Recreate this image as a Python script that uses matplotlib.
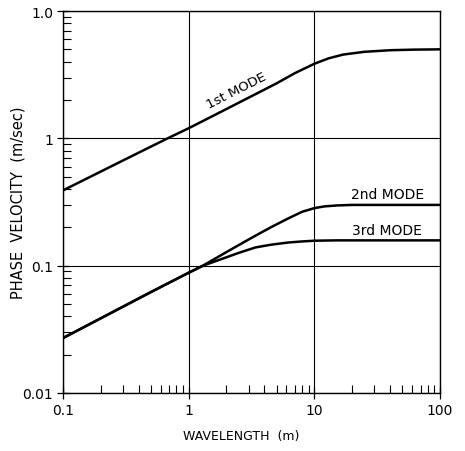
import matplotlib
matplotlib.use("Agg")
import matplotlib.pyplot as plt
from matplotlib.ticker import FixedLocator, LogLocator, NullFormatter

# Data (wavelength in m, phase velocity in m/sec)
mode1_x = [0.1, 0.3, 0.68, 1.0, 2.0, 5.0, 7.0, 10.0, 13.0, 17.0, 25.0, 40.0, 60.0, 100.0]
mode1_y = [0.39, 0.67, 1.0, 1.2, 1.7, 2.7, 3.25, 3.85, 4.25, 4.55, 4.78, 4.92, 4.97, 5.0]

mode2_x = [0.1, 0.5, 1.0, 1.3, 1.84, 2.5, 3.4, 4.5, 6.2, 8.0, 10.0, 12.0, 15.0, 20.0, 40.0, 100.0]
mode2_y = [0.027, 0.062, 0.088, 0.1, 0.122, 0.145, 0.172, 0.2, 0.235, 0.265, 0.283, 0.292, 0.297, 0.30, 0.30, 0.30]

mode3_x = [0.1, 0.5, 1.0, 1.3, 1.84, 2.5, 3.4, 4.5, 6.2, 8.0, 10.0, 15.0, 30.0, 100.0]
mode3_y = [0.027, 0.062, 0.088, 0.1, 0.113, 0.126, 0.139, 0.146, 0.152, 0.155, 0.157, 0.158, 0.158, 0.158]

x_ticks = [0.1, 1, 10, 100]
x_tick_labels = ["0.1", "1", "10", "100"]
y_ticks = [0.01, 0.1, 1, 10]
y_tick_labels = ["0.01", "0.1", "1", "1.0"]

plt.rcParams['font.family'] = ['DejaVu Sans']

fig = plt.figure(figsize=(4.65, 4.52), dpi=100)
ax = fig.add_axes([63/465, 58/452, (440-63)/465, (394-12)/452])

lw = 1.8
ax.plot(mode1_x, mode1_y, color='black', lw=lw, solid_capstyle='butt')
ax.plot(mode2_x, mode2_y, color='black', lw=lw, solid_capstyle='butt')
ax.plot(mode3_x, mode3_y, color='black', lw=lw, solid_capstyle='butt')

ax.set_xscale('log')
ax.set_yscale('log')
ax.set_xlim(0.1, 100)
ax.set_ylim(0.01, 10)

ax.xaxis.set_major_locator(FixedLocator(x_ticks))
ax.set_xticklabels(x_tick_labels)
ax.yaxis.set_major_locator(FixedLocator(y_ticks))
ax.set_yticklabels(y_tick_labels)
ax.xaxis.set_minor_locator(LogLocator(base=10, subs=range(2, 10), numticks=20))
ax.yaxis.set_minor_locator(LogLocator(base=10, subs=range(2, 10), numticks=20))
ax.xaxis.set_minor_formatter(NullFormatter())
ax.yaxis.set_minor_formatter(NullFormatter())

ax.tick_params(axis='both', which='major', direction='inout', length=8, width=0.9,
               labelsize=10, colors='black', pad=3)
ax.tick_params(axis='both', which='minor', direction='in', length=6, width=0.8)
ax.tick_params(top=False, right=False, which='both')

ax.grid(True, which='major', color='black', lw=0.8)
for s in ax.spines.values():
    s.set_linewidth(1.0)
    s.set_color('black')

ax.set_xlabel("WAVELENGTH  (m)", fontsize=9, labelpad=10)
ax.xaxis.set_label_coords((241 - 63) / 377, -(437 - 394) / 382 + 0.0)
ax.xaxis.label.set_va('center')
ax.set_ylabel("PHASE  VELOCITY  (m/sec)", fontsize=10.5)
ax.yaxis.set_label_coords((18 - 63) / 377, 0.5)
ax.yaxis.label.set_va('center')

ax.text(2.42, 2.39, "1st MODE", fontsize=9.5, rotation=27, ha='center', va='center')
ax.text(38.5, 0.363, "2nd MODE", fontsize=10, ha='center', va='center')
ax.text(37.5, 0.189, "3rd MODE", fontsize=10, ha='center', va='center')

fig.savefig("out.png", dpi=100, facecolor='white')
